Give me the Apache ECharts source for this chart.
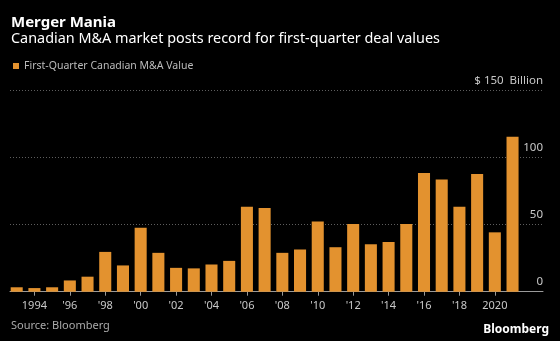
<!DOCTYPE html>
<html>
<head>
<meta charset="utf-8">
<script src="https://cdn.jsdelivr.net/npm/echarts@6/dist/echarts.min.js"></script>
<style>
  html, body { margin: 0; padding: 0; background: #000; }
  #chart { width: 560px; height: 341px; }
</style>
</head>
<body>
<div id="chart"></div>
<script>
// First-quarter Canadian M&A value, US$ billions
const years = ['1993', '1994', '1995', '1996', '1997', '1998', '1999', '2000', '2001', '2002',
  '2003', '2004', '2005', '2006', '2007', '2008', '2009', '2010', '2011', '2012',
  '2013', '2014', '2015', '2016', '2017', '2018', '2019', '2020', '2021'];
const values = [3.3, 2.7, 3.3, 8.4, 11.2, 29.7, 19.6, 47.8, 29.0, 17.8,
  17.4, 20.3, 23.0, 63.4, 62.4, 29.0, 31.5, 52.3, 33.2, 50.5,
  35.4, 37.1, 50.5, 88.6, 83.7, 63.4, 87.9, 44.3, 115.6];
// Labels under the category axis (every other year)
const tickLabels = ['', '1994', '', "'96", '', "'98", '', "'00", '', "'02",
  '', "'04", '', "'06", '', "'08", '', "'10", '', "'12",
  '', "'14", '', "'16", '', "'18", '', '2020', ''];
const yTicks = [0, 50, 100, 150];

const seriesName = 'First-Quarter Canadian M&A Value';
const FONT = '"Noto Sans", sans-serif';

const chart = echarts.init(document.getElementById('chart'), null, { renderer: 'canvas' });

const labeled = (i) => tickLabels[i] !== '';

chart.setOption({
  backgroundColor: '#000',
  animation: false,
  textStyle: { fontFamily: FONT },
  title: [
    { text: 'Merger Mania', left: 11, top: 15, padding: 0,
      textStyle: { color: '#fff', fontSize: 15, fontWeight: 'bold', fontFamily: FONT } },
    { text: 'Canadian M&A market posts record for first-quarter deal values', left: 11, top: 31.5, padding: 0,
      textStyle: { color: '#fff', fontSize: 14.4, fontWeight: 'normal', fontFamily: FONT } },
    { text: 'Source: Bloomberg', left: 11, top: 320.5, padding: 0,
      textStyle: { color: '#aaa', fontSize: 11, fontWeight: 'normal', fontFamily: FONT } },
    { text: 'Bloomberg', right: 11, top: 324, padding: 0,
      textStyle: { color: '#fff', fontSize: 12, fontWeight: 'bold', fontFamily: FONT } }
  ],
  legend: {
    data: [seriesName],
    left: 8, top: 55.5,
    icon: 'rect', itemWidth: 6, itemHeight: 6,
    textStyle: { color: '#bbb', fontSize: 10.5, fontFamily: FONT }
  },
  grid: [
    { left: 7.85, right: 38.6, top: 90.7, bottom: 49.3 },
    { left: 10, right: 17, top: 90.7, bottom: 49.3 }
  ],
  xAxis: [
    {
      type: 'category', gridIndex: 0, data: years,
      axisLine: { show: false },
      axisTick: { show: true, interval: labeled, alignWithLabel: true, length: 4,
        lineStyle: { color: '#999' } },
      axisLabel: { interval: labeled, formatter: (v, i) => tickLabels[i],
        color: '#c8c8c8', fontSize: 11, margin: 9, fontFamily: FONT }
    },
    {
      type: 'value', gridIndex: 1, min: 0, max: 1,
      axisLine: { show: true, lineStyle: { color: '#9a9a9a', width: 1 } },
      axisTick: { show: false }, axisLabel: { show: false }, splitLine: { show: false }
    }
  ],
  yAxis: [
    { type: 'value', gridIndex: 0, min: yTicks[0], max: yTicks[yTicks.length - 1], interval: 50, show: false },
    {
      type: 'value', gridIndex: 1, min: yTicks[0], max: yTicks[yTicks.length - 1], interval: 50,
      position: 'right',
      axisLine: { show: false }, axisTick: { show: false },
      splitLine: { show: true, lineStyle: { color: '#5e5e5e', type: [1, 2], width: 1 } },
      axisLabel: {
        inside: true, margin: 0, verticalAlign: 'bottom', padding: [0, 0, 4, 0],
        color: '#c8c8c8', fontSize: 11.5, fontFamily: FONT,
        formatter: (v) => (v === 150 ? '$ 150  Billion' : String(v))
      }
    }
  ],
  series: [
    {
      name: seriesName, type: 'bar', xAxisIndex: 0, yAxisIndex: 0,
      data: values, barCategoryGap: '32%',
      itemStyle: { color: '#E3922F' }
    }
  ]
});
</script>
</body>
</html>
